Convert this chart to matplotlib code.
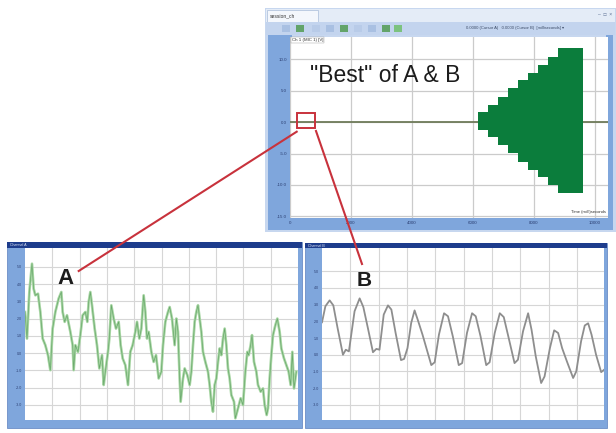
import matplotlib
matplotlib.use('Agg')
import matplotlib.pyplot as plt
from matplotlib.patches import Rectangle
from matplotlib.lines import Line2D

W, H = 616, 433
plt.rcParams['font.family'] = ['Liberation Sans', 'DejaVu Sans']

# ---------------- data ----------------
# top "Best of A & B" window
best_x_ticks = [0, 2000, 4000, 6000, 8000, 10000]
best_x_labels = ['0', '2000', '4000', '6000', '8000', '10000']
best_y_ticks = [10, 5, 0, -5, -10, -15]
best_y_labels = ['10.0', '5.0', '0.0', '-5.0', '-10.0', '-15.0']
best_baseline_x = [0, 10430]
best_baseline_y = [0, 0]
best_step_edges = [6150, 6490, 6820, 7150, 7475, 7800, 8130, 8460, 8790, 9610]
best_env_upper = [1.63, 2.7, 4.0, 5.35, 6.67, 7.78, 9.05, 10.37, 11.7]
best_env_lower = [-1.27, -2.33, -3.65, -4.92, -6.3, -7.62, -8.68, -10.0, -11.3]
zoom_box_x = [220, 820]
zoom_box_y = [-1.0, 1.38]

# panel A (noisy green trace)
a_t = [0.0, 0.073, 0.159, 0.256, 0.317, 0.379, 0.476, 0.562, 0.647, 0.745, 0.842, 0.928,
       1.013, 1.111, 1.233, 1.331, 1.380, 1.453, 1.538, 1.661, 1.746, 1.783, 1.844, 1.941,
       2.027, 2.112, 2.210, 2.283, 2.332, 2.393, 2.454, 2.552, 2.637, 2.723, 2.821, 2.882,
       2.943, 3.040, 3.089, 3.162, 3.248, 3.333, 3.431, 3.504, 3.578, 3.675, 3.773, 3.858,
       3.944, 4.042, 4.103, 4.188, 4.261, 4.347, 4.408, 4.469, 4.530, 4.628, 4.713, 4.799,
       4.896, 4.994, 5.055, 5.140, 5.238, 5.299, 5.385, 5.482, 5.543, 5.604, 5.665, 5.702,
       5.788, 5.849, 5.946, 6.032, 6.093, 6.154, 6.215, 6.276, 6.337, 6.398, 6.459, 6.520,
       6.606, 6.703, 6.764, 6.825, 6.886, 6.947, 7.009, 7.070, 7.131, 7.192, 7.253, 7.314,
       7.375, 7.436, 7.497, 7.558, 7.656, 7.705, 7.802, 7.900, 7.985, 8.071, 8.144, 8.193,
       8.266, 8.315, 8.388, 8.474, 8.535, 8.633, 8.718, 8.779, 8.852, 8.901, 8.962, 9.023,
       9.084, 9.170, 9.243, 9.328, 9.389, 9.487, 9.573, 9.658, 9.731, 9.792, 9.853, 9.939]
a_v = [5.39, 3.85, 6.55, 8.19, 6.74, 6.36, 6.45, 5.39, 3.85, 3.47, 2.89, 2.02,
       4.43, 5.39, 6.17, 6.55, 5.39, 4.82, 5.20, 4.24, 3.47, 2.02, 3.47, 3.08,
       4.05, 5.20, 5.39, 4.82, 5.97, 6.55, 5.78, 4.43, 3.47, 2.12, 2.89, 1.16,
       1.93, 3.08, 3.85, 5.78, 5.01, 4.43, 4.82, 3.47, 2.70, 2.31, 1.16, 3.08,
       3.47, 4.24, 4.82, 3.85, 4.43, 6.36, 5.39, 3.85, 4.24, 3.08, 2.50, 2.89,
       1.54, 1.93, 3.47, 4.82, 5.39, 5.68, 5.01, 3.47, 5.01, 4.24, 1.54, 0.19,
       1.54, 2.12, 1.73, 1.16, 1.93, 3.47, 4.82, 5.39, 5.78, 5.01, 4.24, 3.08,
       2.50, 1.93, 1.16, 0.19, -0.39, 1.16, 1.54, 2.50, 3.28, 2.89, 3.85, 4.43,
       3.47, 2.12, 1.54, 0.58, 0.19, -0.77, -0.19, 0.39, 0.00, 1.93, 3.08, 2.89,
       3.47, 4.05, 2.50, 1.93, 1.16, 0.77, 0.96, 0.00, -0.58, -0.19, 1.54, 2.89,
       4.05, 4.62, 5.01, 4.24, 3.28, 2.70, 2.31, 1.93, 1.16, 3.08, 0.96, 1.93]

# panel B (smooth grey trace)
b_t = [0.0, 0.12, 0.27, 0.40, 0.55, 0.74, 0.84, 0.95, 1.15, 1.33, 1.46, 1.62, 1.80, 1.92,
       2.03, 2.18, 2.33, 2.45, 2.60, 2.79, 2.90, 3.02, 3.15, 3.27, 3.38, 3.55, 3.86, 3.98,
       4.13, 4.31, 4.45, 4.62, 4.83, 4.95, 5.12, 5.30, 5.43, 5.60, 5.80, 5.92, 6.10, 6.28,
       6.42, 6.58, 6.80, 6.92, 7.10, 7.28, 7.40, 7.55, 7.74, 7.86, 8.05, 8.20, 8.34, 8.48,
       8.65, 8.87, 8.98, 9.15, 9.28, 9.40, 9.52, 9.68, 9.86, 9.96]
b_v = [4.94, 5.90, 6.25, 5.95, 4.60, 3.00, 3.30, 3.20, 5.60, 6.37, 5.85, 4.60, 3.15, 3.35,
       3.30, 5.40, 5.95, 5.70, 4.30, 2.68, 2.75, 3.40, 4.90, 5.65, 5.10, 4.20, 2.38, 2.55,
       4.20, 5.48, 5.30, 4.10, 2.38, 2.50, 4.30, 5.48, 5.30, 4.10, 2.38, 2.55, 4.30, 5.48,
       5.25, 4.10, 2.50, 2.70, 4.40, 5.48, 4.50, 2.90, 1.31, 1.70, 3.40, 4.46, 4.30, 3.40,
       2.60, 1.61, 2.00, 3.80, 4.75, 4.88, 4.20, 3.00, 1.96, 2.10]
panel_y_ticks = [0, 1, 2, 3, 4, 5, 6, 7, 8]
panel_x_ticks = [1, 2, 3, 4, 5, 6, 7, 8, 9]
a_y_labels = ['-3.0', '-2.0', '-1.0', '0.0', '1.0', '2.0', '3.0', '4.0', '5.0']
b_y_labels = ['-3.0', '-2.0', '-1.0', '0.0', '1.0', '2.0', '3.0', '4.0', '5.0']

# ---------------- helpers ----------------
fig = plt.figure(figsize=(W / 100, H / 100), dpi=100)
fig.patch.set_facecolor('white')


def frect(x0, y0, x1, y1, color, ec='none', lw=0, z=0):
    r = Rectangle((x0 / W, 1 - y1 / H), (x1 - x0) / W, (y1 - y0) / H,
                  transform=fig.transFigure, facecolor=color, edgecolor=ec,
                  linewidth=lw, zorder=z)
    fig.add_artist(r)


def axrect(x0, y0, x1, y1):
    return [x0 / W, 1 - y1 / H, (x1 - x0) / W, (y1 - y0) / H]


def ftext(x, y, s, **kw):
    fig.text(x / W, 1 - y / H, s, **kw)


NAVY_TXT = '#2b3f72'
STRIP = '#7fa6dc'
GRID = '#cbcbcb'

# ---------------- top window chrome ----------------
frect(265, 8, 616, 232, '#c7d7ef')
frect(266, 9, 615, 22, '#e4ecf7')
frect(267, 10, 318, 22, '#f4f7fc', ec='#a9bcd9', lw=0.5)
ftext(270, 16, 'session_ch', fontsize=3.6, color='#333333', va='center')
ftext(598, 15, '–  □  ×', fontsize=3.6, color='#566a8f', va='center')
frect(266, 22, 615, 35, '#c3d4ee')
for i, xx in enumerate([282, 296, 312, 326, 340, 354, 368, 382, 394]):
    frect(xx, 25, xx + 8, 32, ['#a9c0e2', '#63a46a', '#b8cbe8'][i % 3] if i != 8 else '#7cc27f')
ftext(466, 28.5, '0.0000 (Cursor A)   0.0000 (Cursor B)  [milliseconds] ▾', fontsize=3.0,
      color='#3b4a66', va='center')
frect(268, 35, 292, 230, STRIP)
frect(268, 218, 613, 230, STRIP)
frect(606, 35, 613, 230, STRIP)

ax0 = fig.add_axes(axrect(290, 37, 608, 218))
ax0.set_facecolor('white')
ax0.set_xlim(0, 10430)
ax0.set_ylim(-15.24, 13.5)
ax0.set_xticks(best_x_ticks)
ax0.set_xticklabels(best_x_labels)
ax0.set_yticks(best_y_ticks)
ax0.set_yticklabels(best_y_labels)
ax0.grid(True, color=GRID, linewidth=0.9)
ax0.set_axisbelow(True)
ax0.tick_params(length=0, labelsize=3.2, labelcolor=NAVY_TXT, pad=2)
for s in ax0.spines.values():
    s.set_visible(False)
ax0.plot(best_baseline_x, best_baseline_y, color='#6f7b5a', linewidth=1.3, zorder=3)
ax0.fill_between(best_step_edges, best_env_lower + [best_env_lower[-1]],
                 best_env_upper + [best_env_upper[-1]], step='post',
                 color='#0b7d3c', linewidth=0, zorder=4)
ax0.add_patch(Rectangle((zoom_box_x[0], zoom_box_y[0]), zoom_box_x[1] - zoom_box_x[0],
                        zoom_box_y[1] - zoom_box_y[0], fill=False, edgecolor='#c8323c',
                        linewidth=1.4, zorder=6))
ax0.text(0.062, 0.79, '"Best" of A & B', transform=ax0.transAxes, fontsize=16.5,
         color='#1c1c1c', va='center', ha='left', zorder=7)
ax0.text(0.005, 0.995, 'Ch 1 (MIC 1) [V]', transform=ax0.transAxes, fontsize=3.2,
         color='#333333', va='top', ha='left', zorder=7,
         bbox=dict(facecolor='white', edgecolor='#9a9a9a', linewidth=0.3, pad=0.6))
ax0.text(0.995, 0.02, 'Time (milli)seconds', transform=ax0.transAxes, fontsize=3.0,
         color='#333333', va='bottom', ha='right', zorder=7)

# ---------------- bottom panels ----------------
def panel(x0, y0, x1, y1, px0, px1, xmax, ymin, ymax, t, v, ylabels, title, kind):
    frect(x0, y0, x1, y1, STRIP, ec='#5b7fbf', lw=0.5)
    frect(x0, y0, x1, y0 + 5.5, '#1d3c8c')
    ftext(x0 + 3, y0 + 2.8, title, fontsize=2.6, color='#e6ecf8', va='center')
    ax = fig.add_axes(axrect(px0, y0 + 5.5, px1, y1 - 8))
    ax.set_facecolor('white')
    ax.set_xlim(0, xmax)
    ax.set_ylim(ymin, ymax)
    ax.set_xticks(panel_x_ticks)
    ax.set_xticklabels([])
    ax.set_yticks(panel_y_ticks)
    ax.set_yticklabels(ylabels)
    ax.grid(True, color='#d6d6d6', linewidth=0.8)
    ax.set_axisbelow(True)
    ax.tick_params(length=0, labelsize=2.6, labelcolor=NAVY_TXT, pad=2)
    for s in ax.spines.values():
        s.set_visible(False)
    if kind == 'A':
        ax.plot(t, v, color='#a8d6a4', linewidth=1.9, solid_joinstyle='round', zorder=3)
        ax.plot(t, v, color='#5c9f60', linewidth=0.5, alpha=0.85, zorder=4)
    else:
        ax.plot(t, v, color='#8e8e8e', linewidth=1.3, solid_joinstyle='round', zorder=3)
    return ax


axA = panel(7, 242, 302, 428, 25, 298, 10.0, -0.87, 9.13, a_t, a_v, a_y_labels,
            'Channel A', 'A')
axB = panel(305, 243, 607, 428, 322, 604, 9.96, -0.9, 9.35, b_t, b_v, b_y_labels,
            'Channel B', 'B')

ftext(65, 278, 'A', fontsize=16, fontweight='bold', color='#1c1c1c', ha='center',
      va='center', zorder=10)
ftext(364, 281, 'B', fontsize=15, fontweight='bold', color='#1c1c1c', ha='center',
      va='center', zorder=10)

# red connector lines (figure pixel coordinates)
for (xa, ya), (xb, yb) in [((296.7, 131.7), (78.7, 271.0)), ((316.0, 131.0), (362.0, 264.0))]:
    fig.add_artist(Line2D([xa / W, xb / W], [1 - ya / H, 1 - yb / H], transform=fig.transFigure,
                          color='#c8323c', linewidth=1.5, zorder=20))

fig.savefig('out.png', dpi=100)
